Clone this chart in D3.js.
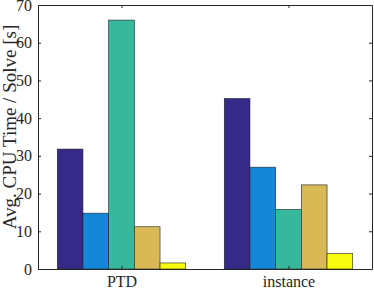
<!doctype html>
<html>
<head>
<meta charset="utf-8">
<script src="https://cdnjs.cloudflare.com/ajax/libs/d3/7.8.5/d3.min.js"></script>
<style>
body { margin: 0; background: #fff; }
svg { display: block; }
text { font-family: "Liberation Serif", "DejaVu Serif", serif; fill: #262626; }
</style>
</head>
<body>
<svg id="chart" width="374" height="289"></svg>
<script>
// groups along the x axis
var groups = ["PTD", "instance"];
// one array per bar series
var series1 = [31.8, 45.2];
var series2 = [14.8, 27.0];
var series3 = [66.0, 15.8];
var series4 = [11.2, 22.3];
var series5 = [1.6, 4.1];
var yTicks = [0, 10, 20, 30, 40, 50, 60, 70];
var colors = ["#352a87", "#1487d9", "#37b89d", "#d8b955", "#f9fb0e"];

var allSeries = [series1, series2, series3, series4, series5];

var plotLeft = 38, plotRight = 372, plotTop = 5, plotBottom = 269;
var svg = d3.select("#chart");

var x = d3.scaleLinear().domain([0.5, groups.length + 0.5]).range([plotLeft, plotRight]);
var y = d3.scaleLinear().domain([0, 70]).range([plotBottom, plotTop]);

var n = allSeries.length;
var groupWidth = Math.min(0.8, n / (n + 1.5));
var bw = groupWidth / n;

var bars = [];
allSeries.forEach(function(s, j) {
  s.forEach(function(v, i) {
    bars.push({ g: i + 1, j: j, v: v });
  });
});

svg.append("g").selectAll("rect")
  .data(bars)
  .enter()
  .append("rect")
  .attr("x", d => x(d.g - groupWidth / 2 + d.j * bw))
  .attr("width", d => x(d.g - groupWidth / 2 + (d.j + 1) * bw) - x(d.g - groupWidth / 2 + d.j * bw))
  .attr("y", d => y(d.v))
  .attr("height", d => y(0) - y(d.v))
  .style("fill", d => colors[d.j])
  .style("stroke", "#222")
  .style("stroke-width", 0.6);

// axes: left/bottom with labels, top/right as box with inward ticks
var yAxis = d3.axisLeft(y).tickValues(yTicks).tickSizeInner(-3).tickSizeOuter(0).tickPadding(6);
var yAxisR = d3.axisRight(y).tickValues(yTicks).tickSizeInner(-3).tickSizeOuter(0).tickFormat("");
var xAxis = d3.axisBottom(x).tickValues(d3.range(1, groups.length + 1)).tickSizeInner(-3).tickSizeOuter(0)
  .tickPadding(7).tickFormat(d => groups[d - 1]);
var xAxisT = d3.axisTop(x).tickValues(d3.range(1, groups.length + 1)).tickSizeInner(-3).tickSizeOuter(0).tickFormat("");

function styleAxis(g) {
  g.selectAll("path").style("stroke", "#262626").style("stroke-width", 1);
  g.selectAll("line").style("stroke", "#262626").style("stroke-width", 1);
  g.selectAll("text").style("font-family", "Liberation Serif, serif").style("font-size", "16px").style("fill", "#262626");
}

svg.append("g").attr("transform", "translate(" + plotLeft + ",0)").call(yAxis).call(styleAxis);
svg.append("g").attr("transform", "translate(" + plotRight + ",0)").call(yAxisR).call(styleAxis);
svg.append("g").attr("transform", "translate(0," + plotBottom + ")").call(xAxis).call(styleAxis);
svg.append("g").attr("transform", "translate(0," + plotTop + ")").call(xAxisT).call(styleAxis);

svg.append("text")
  .attr("transform", "translate(15.5,127) rotate(-90)")
  .attr("text-anchor", "middle")
  .style("font-size", "19px")
  .text("Avg. CPU Time / Solve [s]");
</script>
</body>
</html>
